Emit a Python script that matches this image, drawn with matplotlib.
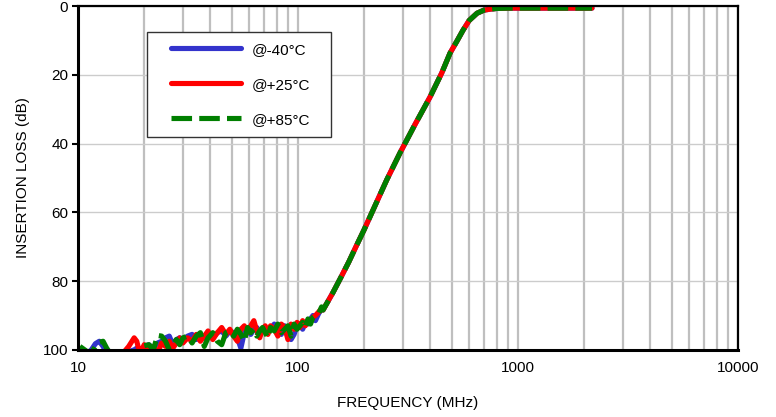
import numpy as np
import matplotlib
matplotlib.use("Agg")
import matplotlib.pyplot as plt
from matplotlib.patches import Rectangle
from matplotlib.ticker import FixedLocator, NullFormatter

plt.rcParams["font.family"] = ["Liberation Sans", "DejaVu Sans"]

# low-frequency (noise floor) region, MHz
freq_lo = [10.2, 11, 11.5, 12, 12.5, 13, 13.5, 14, 15, 16, 17, 18, 18.5, 19, 19.5,
           20, 21, 22, 23, 24, 25, 26, 27, 28, 29, 30, 31.5, 33, 34.5, 36, 37.5,
           39, 41, 43, 45, 47, 49, 51, 53, 55, 57, 59, 61, 63, 65, 67, 69, 71, 73,
           75, 78, 81, 84, 87, 90, 93, 96, 99, 102, 105, 108, 111, 114, 117, 120,
           124, 128]
loss_lo_m40 = [100.5, 101, 100, 98.2, 97.5, 99, 101, 101, 101, 101, 100.5, 100, 99.5,
               100.5, 101, 99, 98.5, 99.5, 98, 97.5, 96.5, 96, 98.5, 97, 96.5, 97.5,
               96, 95.5, 97, 95.5, 96.5, 95, 96.5, 95, 94.5, 96, 94.5, 95, 96.5, 99.5,
               95, 94, 95.5, 94, 93.5, 95, 94, 93.5, 95, 94, 92.5, 94, 95.5, 93, 94.5,
               97, 95.5, 93, 92.5, 94, 92, 92.5, 91, 90, 91.5, 89.5, 88]
loss_lo_p25 = [100.5, 100.5, 101, 101, 100.5, 100.5, 101, 101, 100.5, 101, 99, 96.5,
               97.5, 100.5, 100, 98.5, 100, 99, 101, 98, 99, 97.5, 99.5, 98, 96.5, 98,
               96.5, 97.5, 95.5, 97.5, 96, 94.5, 97, 95, 93.5, 95.5, 94, 96, 97.5, 94,
               93, 95, 93, 91.5, 94.5, 96.5, 94, 93, 95.5, 93, 94, 96, 92.5, 93.5, 97,
               92.5, 94, 92, 93.5, 91.5, 93, 91.5, 92, 90.5, 90, 89, 88]
loss_lo_p85 = [99, 100.5, 101, 99, 97.8, 97.5, 99.5, 101, 101, 101, 101, 100.5, 101,
               100, 99.5, 98.8, 98.5, 100, 95.8, 96, 97.5, 100, 98.5, 97, 98.5, 96.5,
               96, 98, 96, 95, 99, 96.5, 95, 97.5, 98.5, 95, 94.5, 96, 94, 95.5, 97.5,
               93.5, 95, 94, 96, 94.5, 93.5, 95, 96.5, 93.5, 94.5, 92.5, 95, 94, 93,
               96, 92.5, 94, 93, 92, 93.5, 91, 92.5, 90.5, 90, 89.5, 87.5]

# roll-off and passband (the three temperatures overlap)
freq_hi = [130, 144, 155, 170, 185, 200, 217, 253, 291, 340, 398, 450, 491, 530, 563,
           600, 651, 700, 748, 800, 900, 1000, 1500, 2170]
loss_hi = [88.4, 83.4, 79.5, 74.5, 69.5, 65, 60, 50.6, 42.7, 34.5, 26.5, 19.5, 13.7,
           10, 7, 4.2, 2.1, 1.2, 0.9, 0.7, 0.6, 0.6, 0.6, 0.6]

series = [
    ("@-40°C", loss_lo_m40, "#3333cc", "-"),
    ("@+25°C", loss_lo_p25, "#ff0000", "-"),
    ("@+85°C", loss_lo_p85, "#007f00", "--"),
]

fig = plt.figure(figsize=(7.76, 4.17), dpi=100)
ax = fig.add_axes([0.1005, 0.161, 0.8505, 0.8245])

for label, lo, color, ls in series:
    f = np.array(freq_lo + freq_hi)
    y = np.array(lo + loss_hi)
    line, = ax.plot(f, y, color=color, lw=3.7, ls=ls, label=label,
                    solid_capstyle="round", solid_joinstyle="round")
    if ls == "--":
        line.set_dashes((4.0, 1.4))
        line.set_dash_capstyle("butt")

ax.set_xscale("log")
ax.set_xlim(10, 10000)
ax.set_ylim(100, 0)
ax.set_yticks([0, 20, 40, 60, 80, 100])
ax.set_xticks([10, 100, 1000, 10000])
ax.set_xticklabels(["10", "100", "1000", "10000"])
minors = [m * d for d in (10, 100, 1000) for m in range(2, 10)]
ax.xaxis.set_minor_locator(FixedLocator(minors))
ax.xaxis.set_minor_formatter(NullFormatter())

ax.grid(axis="x", which="both", color="#bfbfbf", lw=1.6)
ax.grid(axis="y", which="major", color="#cccccc", lw=1.0)
ax.set_axisbelow(True)

ax.tick_params(axis="x", which="both", length=0, pad=8, labelsize=11)
ax.tick_params(axis="y", length=4, width=1.5, pad=3, labelsize=11)
for side in ("left", "bottom"):
    ax.spines[side].set_linewidth(2.2)
for side in ("top", "right"):
    ax.spines[side].set_linewidth(1.6)

ax.set_xlabel("FREQUENCY (MHz)", fontsize=11, labelpad=15)
ax.set_ylabel("INSERTION LOSS (dB)", fontsize=11, labelpad=9)

# legend box drawn separately so the side padding can be wider than the top/bottom
ax.add_patch(Rectangle((0.1045, 0.619), 0.2785, 0.305, transform=ax.transAxes,
                       facecolor="white", edgecolor="#333333", lw=1.0, zorder=4))
leg = ax.legend(loc="upper left", bbox_to_anchor=(0.141, 0.893), fontsize=11,
                handlelength=4.6, handletextpad=0.7, labelspacing=1.37,
                borderpad=0, frameon=False, borderaxespad=0)
leg.set_zorder(5)

fig.savefig("out.png", dpi=100)
